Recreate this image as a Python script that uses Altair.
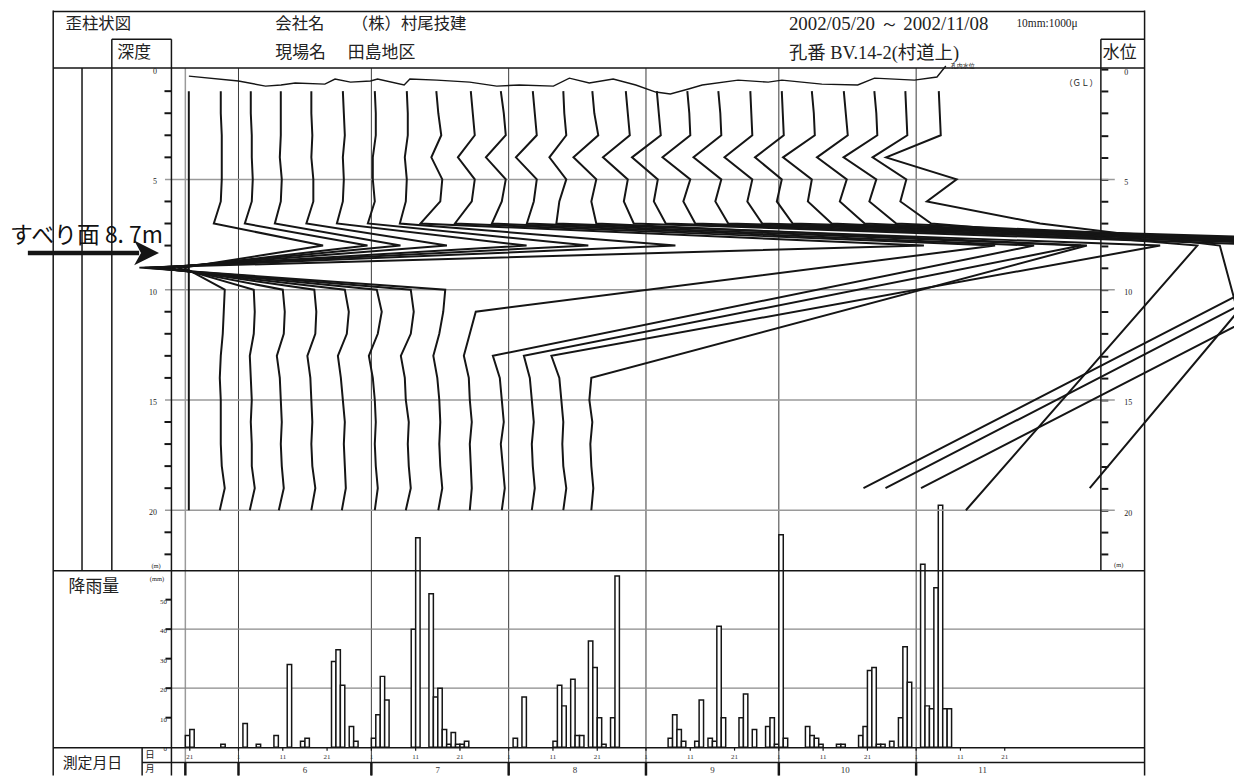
import altair as alt
import pandas as pd

# ---------------------------------------------------------------- data
START = "2002-05-20"
DEPTHS = [1, 2, 3, 4, 5, 6, 7, 8, 9, 10, 11, 12, 13, 14, 15, 16, 17, 18, 19, 20]
PROFILE_DATES = ["2002-05-20", "2002-05-28", "2002-06-04", "2002-06-11", "2002-06-17",
                 "2002-06-24", "2002-07-02", "2002-07-09", "2002-07-16", "2002-07-23",
                 "2002-07-30", "2002-08-06", "2002-08-13", "2002-08-20", "2002-08-27",
                 "2002-09-03", "2002-09-10", "2002-09-17", "2002-09-24", "2002-10-02",
                 "2002-10-08", "2002-10-16", "2002-10-22", "2002-10-29", "2002-11-06"]
N = None  # gauge without reading
# cumulative strain (micro-strain) at depths 1..20 m for each reading
S01 = [70, 70, 70, 70, 70, 70, 70, 70, 70, 70, 70, 70, 70, 70, 70, 70, 70, 70, 70, 70]
S02 = [0, 0, 20, 20, 20, 0, -140, 2060, -740, 80, 60, 40, 0, -20, 0, 0, 0, 20, 80, -20]
S03 = [-20, -20, 0, 0, 20, 0, -140, 2330, -1500, 40, 60, 40, -40, -20, 0, -20, 0, 0, 60, -40]
S04 = [-40, -40, -40, -60, -20, -40, -160, 2370, -2300, 0, 40, 20, -120, -60, -40, -20, -40, -20, 20, -80]
S05 = [40, 40, 60, 40, 80, 80, -60, 2770, -2960, 100, 140, 120, -40, 20, 40, 60, 40, 60, 120, 40]
S06 = [50, 70, 90, 50, 70, 50, -70, 3750, -3750, 90, 170, 130, -50, 10, 50, 90, 70, 90, 110, 30]
S07 = [-20, 0, 0, -60, -60, -20, -160, 4280, -4560, 20, 120, 40, -140, -60, -20, 0, -20, 0, 40, -20]
S08 = [0, 20, 20, -40, 0, -20, -140, 5410, -5280, 80, 140, 80, -120, -40, -20, 40, 20, 40, 80, -20]
S09 = [-30, 10, 70, -130, 90, 50, -350, 9790, -6010, 150, 110, 30, -90, -10, 30, 50, 30, 50, 90, 10]
S10 = [40, 80, 120, -220, 120, 60, -280, 10600, N, N, 140, 20, -100, 0, 20, 60, 20, 40, 60, 20]
S11 = [20, 80, 120, -280, 120, 40, -160, 10760, N, N, N, N, -140, 0, 40, 80, 20, 60, 100, 40]
S12 = [40, 80, 120, -300, 120, 60, -80, 11080, N, N, N, N, -140, -20, 20, 60, 20, 40, 80, 20]
S13 = [30, 50, 90, -250, 90, -50, -110, 12050, N, N, N, N, -210, -50, -10, 30, 10, 30, 90, 30]
S14 = [-10, 30, 110, -390, 70, -30, 70, 9950, N, N, N, N, N, -30, -70, -10, -50, -30, 10, -30]
S15 = [40, 80, 120, -420, 80, 0, 200, 13440, N, N, N, N, N, N, N, N, N, N, N, N]
S16 = [40, 80, 120, -460, 60, -20, 220, 13820, N, N, N, N, N, N, N, N, N, N, N, N]
S17 = [30, 70, 90, -470, 90, -50, 190, 14190, N, N, N, N, N, N, N, N, N, N, N, N]
S18 = [30, 70, 90, -470, 90, -30, 230, 14570, N, N, N, N, N, N, N, N, N, N, N, N]
S19 = [50, 70, 90, -470, 90, -10, 290, 14950, N, N, N, N, N, N, N, N, N, N, N, N]
S20 = [-30, -10, 10, -570, -30, -130, 190, 15230, N, N, N, N, N, N, N, N, N, N, N, N]
S21 = [40, 80, 100, -540, 40, -40, 440, 10560, N, N, N, N, N, N, N, N, N, N, 1080, N]
S22 = [-30, 10, 50, -570, 30, -110, 390, 10270, N, N, N, N, N, N, N, N, N, N, 810, N]
S23 = [50, 90, 110, -570, 90, -50, 490, 10470, N, N, N, N, N, N, N, N, N, N, 990, N]
S24 = [50, 70, 90, -610, 70, -50, 570, 5930, N, N, N, N, N, N, N, N, N, N, N, 1270]
S25 = [10, 30, 50, -1050, 370, -230, 2050, 5670, N, N, 6030, N, N, N, N, N, N, N, 3050, N]
STRAINS = [S01, S02, S03, S04, S05, S06, S07, S08, S09, S10, S11, S12, S13,
           S14, S15, S16, S17, S18, S19, S20, S21, S22, S23, S24, S25]
MU_PER_DAY = 89.2  # drawing scale: one day of the time axis equals 89.2 micro-strain

# water level in the hole (days since 5/20, depth m)
WL_DAY = [0.8, 12.0, 18.1, 21.6, 24.8, 31.5, 33.8, 37.3, 41.8, 43.4, 49.4, 50.7, 56.8, 64.2,
          70.3, 75.4, 83.1, 86.7, 91.2, 96.6, 101.7, 106.2, 109.5, 113.6, 116.7, 124.8,
          131.6, 134.7, 143.7, 151.8, 155.6, 164.6, 169.7, 171.7]
WL_DEPTH = [0.32, 0.54, 0.77, 0.72, 0.63, 0.68, 0.45, 0.59, 0.54, 0.45, 0.72, 0.45, 0.50, 0.59,
            0.77, 0.72, 0.77, 0.41, 0.63, 0.45, 0.72, 1.04, 1.13, 0.90, 0.72, 0.50,
            0.59, 0.50, 0.68, 0.72, 0.41, 0.50, 0.36, -0.14]

RAIN_DATES = ["2002-05-20", "2002-05-21", "2002-05-28", "2002-06-02", "2002-06-05", "2002-06-09",
              "2002-06-12", "2002-06-15", "2002-06-16", "2002-06-22", "2002-06-23", "2002-06-24",
              "2002-06-26", "2002-06-27", "2002-07-01", "2002-07-02", "2002-07-03", "2002-07-04",
              "2002-07-10", "2002-07-11", "2002-07-14", "2002-07-15", "2002-07-16", "2002-07-17",
              "2002-07-18", "2002-07-19", "2002-07-20", "2002-07-21", "2002-07-22", "2002-08-02",
              "2002-08-04", "2002-08-11", "2002-08-12", "2002-08-13", "2002-08-15", "2002-08-16",
              "2002-08-17", "2002-08-19", "2002-08-20", "2002-08-21", "2002-08-22", "2002-08-24",
              "2002-08-25", "2002-09-06", "2002-09-07", "2002-09-08", "2002-09-09", "2002-09-12",
              "2002-09-13", "2002-09-15", "2002-09-16", "2002-09-17", "2002-09-18", "2002-09-22",
              "2002-09-23", "2002-09-25", "2002-09-28", "2002-09-29", "2002-09-30", "2002-10-01",
              "2002-10-02", "2002-10-07", "2002-10-08", "2002-10-09", "2002-10-10", "2002-10-14",
              "2002-10-15", "2002-10-19", "2002-10-20", "2002-10-21", "2002-10-22", "2002-10-23",
              "2002-10-24", "2002-10-26", "2002-10-28", "2002-10-29", "2002-10-30", "2002-11-02",
              "2002-11-03", "2002-11-04", "2002-11-05", "2002-11-06", "2002-11-07", "2002-11-08"]
RAIN_MM = [4, 6, 1, 8, 1, 4, 28, 2, 3, 29, 33, 21, 7, 2, 3, 11, 24, 16, 40, 71,
           52, 17, 20, 6, 1, 5, 1, 1, 2, 3, 17, 2, 21, 14, 23, 4, 4, 36, 27, 10,
           1, 10, 58, 3, 11, 6, 2, 2, 16, 3, 2, 41, 10, 10, 18, 6, 7, 10, 1, 72,
           3, 7, 4, 3, 1, 1, 1, 4, 7, 26, 27, 1, 1, 2, 10, 34, 22, 62, 14, 13,
           54, 82, 13, 13]

MONTH_STARTS = ["2002-06-01", "2002-07-01", "2002-08-01", "2002-09-01", "2002-10-01", "2002-11-01"]
MONTH_MIDS = ["2002-06-16", "2002-07-16", "2002-08-16", "2002-09-16", "2002-10-16", "2002-11-16"]
MONTH_LABELS = ["6", "7", "8", "9", "10", "11"]
DAY_TICK_DATES = ["2002-05-21", "2002-06-01", "2002-06-11", "2002-06-21", "2002-07-01",
                  "2002-07-11", "2002-07-21", "2002-08-01", "2002-08-11", "2002-08-21",
                  "2002-09-01", "2002-09-11", "2002-09-21", "2002-10-01", "2002-10-11",
                  "2002-10-21", "2002-11-01", "2002-11-11", "2002-11-21"]
DAY_TICK_LABELS = ["21", "1", "11", "21", "1", "11", "21", "1", "11", "21",
                   "1", "11", "21", "1", "11", "21", "1", "11", "21"]
DEPTH_GRID = [5, 10, 15, 20]
DEPTH_TICKS = [1, 2, 3, 4, 6, 7, 8, 9, 11, 12, 13, 14, 16, 17, 18, 19, 21, 22]
DEPTH_LABELS = [0, 5, 10, 15, 20]
DEPTH_TICKS_ALL = [0, 1, 2, 3, 4, 5, 6, 7, 8, 9, 10, 11, 12, 13, 14, 15, 16, 17, 18, 19, 20, 21, 22]
RAIN_GRID = [20, 40]
RAIN_TICKS = [10, 20, 30, 40, 50]
RAIN_LABELS = [0, 10, 20, 30, 40, 50]


def day(s):
    return (pd.Timestamp(s) - pd.Timestamp(START)).days


rows = []
for date, strains in zip(PROFILE_DATES, STRAINS):
    d0 = day(date)
    for dep, s in zip(DEPTHS, strains):
        if s is None:
            continue
        rows.append({"profile": date, "depth": dep, "x": d0 + s / MU_PER_DAY})
prof_df = pd.DataFrame(rows)
wl_df = pd.DataFrame({"day": WL_DAY, "depth": WL_DEPTH})
rain_df = pd.DataFrame({"day": [day(d) for d in RAIN_DATES], "mm": RAIN_MM})
rain_df["day_end"] = rain_df["day"] + 1
month_df = pd.DataFrame({"day": [day(d) for d in MONTH_STARTS]})
sep_df = pd.DataFrame({"day": [0] + [day(d) for d in MONTH_STARTS]})
mlab_df = pd.DataFrame({"day": [day(d) for d in MONTH_MIDS], "lab": MONTH_LABELS})
dtick_df = pd.DataFrame({"day": [day(d) for d in DAY_TICK_DATES], "lab": DAY_TICK_LABELS})
dgrid_df = pd.DataFrame({"d": DEPTH_GRID})
dtk_df = pd.DataFrame({"d": DEPTH_TICKS})
dlab_df = pd.DataFrame({"d": DEPTH_LABELS, "lab": [str(v) for v in DEPTH_LABELS]})
dall_df = pd.DataFrame({"d": DEPTH_TICKS_ALL})
rgrid_df = pd.DataFrame({"r": RAIN_GRID})
rtk_df = pd.DataFrame({"r": RAIN_TICKS})
rlab_df = pd.DataFrame({"r": RAIN_LABELS, "lab": [str(v) for v in RAIN_LABELS]})

# ---------------------------------------------------------------- scales
X_SC = alt.Scale(domain=[0, 200], range=[178.5, 1070.1], nice=False, zero=False)
DEPTH_SC = alt.Scale(domain=[0, 22.75], range=[59, 564.05], nice=False, zero=False)
RAIN_SC = alt.Scale(domain=[0, 60], range=[741.5, 563.3], nice=False, zero=False)

JP = "Noto Sans CJK JP"
SERIF = "Liberation Serif"
INK = "#151515"
ONE = pd.DataFrame({"v": [0]})


def hrule(y, x1, x2, w=1.5, color=INK):
    return alt.Chart(ONE).mark_rule(color=color, strokeWidth=w).encode(
        x=alt.value(x1), x2=alt.value(x2), y=alt.value(y))


def vrule(x, y1, y2, w=1.5, color=INK):
    return alt.Chart(ONE).mark_rule(color=color, strokeWidth=w).encode(
        x=alt.value(x), y=alt.value(y1), y2=alt.value(y2))


def txt(s, x, y, size, font=JP, align="left", color="#222"):
    return alt.Chart(pd.DataFrame({"t": [s]})).mark_text(
        align=align, baseline="middle", fontSize=size, font=font, color=color
    ).encode(x=alt.value(x), y=alt.value(y), text="t:N")


# ---------------------------------------------------------------- layers
month_lines = alt.Chart(month_df).mark_rule(color="#3a3a3a", strokeWidth=1).encode(
    x=alt.X("day:Q", scale=X_SC, axis=None), y=alt.value(58), y2=alt.value(770))
start_line = alt.Chart(ONE).mark_rule(color="#9a9a9a", strokeWidth=1.5).encode(
    x=alt.X("v:Q", scale=X_SC, axis=None), y=alt.value(58), y2=alt.value(757))

# depth panel (shared depth scale)
depth_grid = alt.Chart(dgrid_df).mark_rule(color="#9a9a9a", strokeWidth=1.5).encode(
    y=alt.Y("d:Q", scale=DEPTH_SC, axis=None), x=alt.value(158), x2=alt.value(1114))
depth_ticks = alt.Chart(dtk_df).mark_rule(color=INK, strokeWidth=2).encode(
    y=alt.Y("d:Q", scale=DEPTH_SC, axis=None), x=alt.value(157.5), x2=alt.value(164.5))
depth_labels = alt.Chart(dlab_df).mark_text(
    align="right", baseline="middle", dy=3, fontSize=8, font=SERIF, color="#222").encode(
    y=alt.Y("d:Q", scale=DEPTH_SC, axis=None), x=alt.value(150), text="lab:N")
water = alt.Chart(wl_df).mark_line(color=INK, strokeWidth=1.4).encode(
    x=alt.X("day:Q", scale=X_SC, axis=None), y=alt.Y("depth:Q", scale=DEPTH_SC, axis=None))
profiles = alt.Chart(prof_df).mark_line(color=INK, strokeWidth=2).encode(
    x=alt.X("x:Q", scale=X_SC, axis=None),
    y=alt.Y("depth:Q", scale=DEPTH_SC, axis=None),
    detail="profile:N", order="depth:Q")
depth_group = alt.layer(depth_grid, depth_ticks, depth_labels, water, profiles)

# water-level column axis on the right
right_axis = alt.Axis(orient="right", offset=-134, values=DEPTH_TICKS_ALL,
                      labelExpr="datum.value % 5 === 0 ? datum.label : ''",
                      tickSize=7, tickWidth=2, tickColor=INK, domain=False, grid=False,
                      labelFont=SERIF, labelFontSize=8, labelColor="#222",
                      labelPadding=16, labelOffset=3, labelOverlap=False, title="")
right_layer = alt.Chart(dall_df).mark_point(opacity=0).encode(
    y=alt.Y("d:Q", scale=DEPTH_SC, axis=right_axis), x=alt.value(1100))

# rainfall panel (shared rain scale)
rain_grid = alt.Chart(rgrid_df).mark_rule(color="#8a8a8a", strokeWidth=1.3).encode(
    y=alt.Y("r:Q", scale=RAIN_SC, axis=None), x=alt.value(164.5), x2=alt.value(1144))
rain_ticks = alt.Chart(rtk_df).mark_rule(color=INK, strokeWidth=2).encode(
    y=alt.Y("r:Q", scale=RAIN_SC, axis=None), x=alt.value(158.5), x2=alt.value(164.5))
rain_labels = alt.Chart(rlab_df).mark_text(
    align="right", baseline="middle", dy=2, fontSize=7, font=SERIF, color="#222").encode(
    y=alt.Y("r:Q", scale=RAIN_SC, axis=None), x=alt.value(160), text="lab:N")
bars = alt.Chart(rain_df).mark_bar(fill="white", stroke=INK, strokeWidth=1.5).encode(
    x=alt.X("day:Q", scale=X_SC, axis=None), x2="day_end:Q",
    y=alt.Y("mm:Q", scale=RAIN_SC, axis=None), y2=alt.datum(0))
rain_group = alt.layer(rain_grid, rain_ticks, rain_labels, bars)

# date rows
day_ticks = alt.Chart(dtick_df).mark_rule(color=INK, strokeWidth=1.2).encode(
    x=alt.X("day:Q", scale=X_SC, axis=None), y=alt.value(742), y2=alt.value(745))
day_labels = alt.Chart(dtick_df).mark_text(fontSize=7, font=SERIF, color="#333").encode(
    x=alt.X("day:Q", scale=X_SC, axis=None), y=alt.value(751), text="lab:N")
month_seps = alt.Chart(sep_df).mark_rule(color=INK, strokeWidth=2.5).encode(
    x=alt.X("day:Q", scale=X_SC, axis=None), y=alt.value(757), y2=alt.value(770))
month_labels = alt.Chart(mlab_df).mark_text(fontSize=9, font=SERIF, color="#333").encode(
    x=alt.X("day:Q", scale=X_SC, axis=None), y=alt.value(764.5), text="lab:N")

frame = [
    hrule(1, 45.5, 1144), hrule(29, 104.5, 164.5), hrule(29, 1100, 1144),
    hrule(58, 45.5, 1144), hrule(564, 45.5, 1144), hrule(742, 45.5, 1144),
    hrule(757, 135, 1144),
    vrule(45.5, 0, 770), vrule(1144, 0, 770), vrule(74.5, 58, 564),
    vrule(104.5, 29, 564), vrule(164.5, 29, 770), vrule(1100, 29, 564),
    vrule(135, 742, 770),
]

texts = [
    txt("歪柱状図", 58, 14, 16.5),
    txt("会社名", 269, 14, 16.5),
    txt("（株）村尾技建", 346, 14, 16.5),
    txt("2002/05/20 ～ 2002/11/08", 786, 14, 19, font=SERIF),
    txt("10mm:1000μ", 1015, 14, 11.5, font=SERIF),
    txt("深度", 110, 43, 17),
    txt("現場名", 269, 43, 17),
    txt("田島地区", 342, 43, 17),
    txt("孔番 BV.14-2(村道上)", 786, 43, 18.5, font=SERIF + ", " + JP),
    txt("水位", 1102, 43, 17),
    txt("（ＧＬ）", 1097, 73, 8.5, align="right"),
    txt("孔内水位", 949, 56, 6),
    txt("(m)", 149, 559, 6.5, font=SERIF, align="center"),
    txt("(m)", 1118, 558, 6.5, font=SERIF, align="center"),
    txt("(mm)", 150, 572, 6.5, font=SERIF, align="center"),
    txt("降雨量", 61, 580, 17),
    txt("測定月日", 55, 757, 15),
    txt("日", 143, 749, 9.5, align="center"),
    txt("月", 143, 763, 9.5, align="center"),
    txt("すべり面 8. 7m", 2, 227, 23, color="#111"),
]

arrow = [
    hrule(244, 20, 132, w=4.5),
    alt.Chart(ONE).mark_point(shape="M -1 -1 L 1 0 L -1 1 L -0.45 0 Z", size=625,
                              filled=True, color=INK, opacity=1, strokeWidth=0).encode(
        x=alt.value(139.5), y=alt.value(244)),
]

chart = alt.layer(
    month_lines, start_line, rain_group, depth_group, right_layer,
    day_ticks, day_labels, month_seps, month_labels,
    *frame, *texts, *arrow,
).resolve_scale(y="independent").properties(
    width=1234, height=770, padding=0,
    autosize=alt.AutoSizeParams(type="none"),
).configure_view(stroke="transparent")

chart.save("out.html", embed_options={"renderer": "svg", "actions": False})
